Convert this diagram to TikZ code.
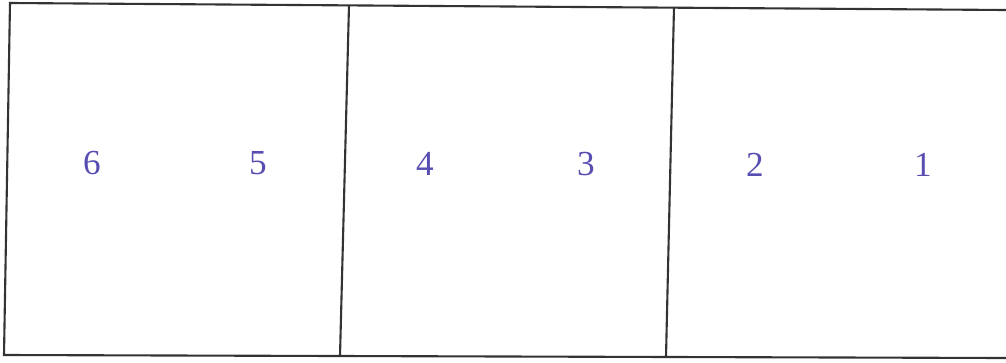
\documentclass[tikz,border=0pt]{standalone}
\usepackage{fontspec}
\setmainfont{Liberation Serif}
\usetikzlibrary{positioning}
\definecolor{numblue}{RGB}{88,78,178}

\begin{document}
\begin{tikzpicture}[x=0.025cm, y=-0.025cm,
    edge/.style={draw=black!80, line width=1.5pt},
    num/.style={text=numblue, font=\fontsize{25}{30}\selectfont, inner sep=0pt}
]
\useasboundingbox (0,0) rectangle (1006,362);
% frame corners
\coordinate (tl) at (10,3);
\coordinate (bl) at (4,355);
\coordinate (tr) at (1006,10);
\coordinate (br) at (1006,358);
\coordinate (d1t) at (349,5);
\coordinate (d1b) at (340,356);
\coordinate (d2t) at (674,7);
\coordinate (d2b) at (666,357);

\draw[edge] (tr) -- (tl) -- (bl) -- (br);
\draw[edge] (d1t) -- (d1b);
\draw[edge] (d2t) -- (d2b);

\node[num] (n6) at (92,163) {6};
\node[num] (n5) at (258,163) {5};
\node[num] (n4) at (425,164) {4};
\node[num] (n3) at (586,164) {3};
\node[num] (n2) at (755,165) {2};
\node[num] (n1) at (923,165) {1};
\end{tikzpicture}
\end{document}
